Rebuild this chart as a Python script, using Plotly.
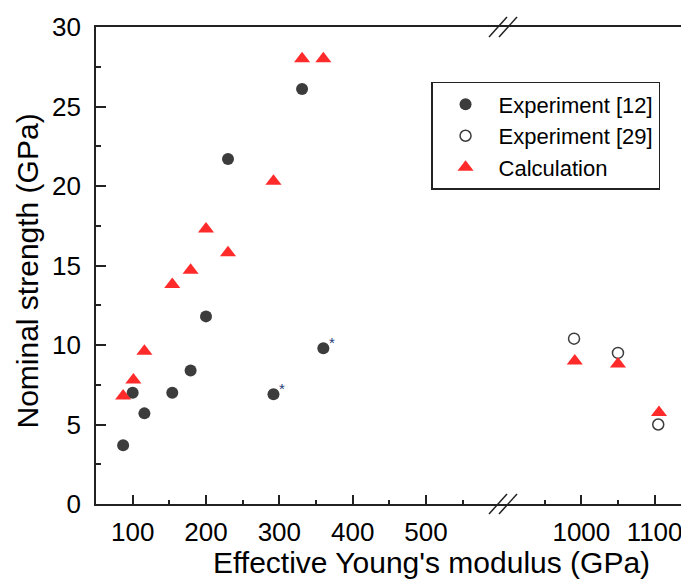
import plotly.graph_objects as go

# ---- data ----
exp12_x = [87, 100, 116, 154, 179, 200, 230, 292, 331, 360]
exp12_y = [3.7, 7.0, 5.7, 7.0, 8.4, 11.8, 21.7, 6.9, 26.1, 9.8]

exp29_x = [990, 1050, 1105]
exp29_y = [10.4, 9.5, 5.0]

calc_left_x = [87, 101, 116, 154, 179, 200, 230, 292, 331, 360]
calc_left_y = [6.8, 7.8, 9.6, 13.8, 14.7, 17.3, 15.8, 20.3, 28.0, 28.0]
calc_right_x = [991, 1050, 1106]
calc_right_y = [9.0, 8.8, 5.75]

star_x = [292, 360]
star_y = [6.9, 9.8]

x_left_ticks = [100, 200, 300, 400, 500]
x_left_minor = [150, 250, 350, 450, 550]
x_right_ticks = [1000, 1100]
x_right_minor = [950, 1050]
y_ticks = [0, 5, 10, 15, 20, 25, 30]

FONT = "Arial, Liberation Sans, sans-serif"
DARK = "#3c3c3c"
RED = "#ff2b2b"
SPLIT = 407 / 593

fig = go.Figure()
fig.add_trace(go.Scatter(x=exp12_x, y=exp12_y, mode="markers", name="Experiment [12]",
                         marker=dict(symbol="circle", size=12, color=DARK),
                         xaxis="x", yaxis="y"))
fig.add_trace(go.Scatter(x=exp29_x, y=exp29_y, mode="markers", name="Experiment [29]",
                         marker=dict(symbol="circle", size=11, color="white",
                                     line=dict(color=DARK, width=1.5)),
                         xaxis="x2", yaxis="y"))
fig.add_trace(go.Scatter(x=calc_left_x, y=calc_left_y, mode="markers", name="Calculation",
                         marker=dict(symbol="triangle-up", size=14, color=RED),
                         xaxis="x", yaxis="y", legendgroup="calc"))
fig.add_trace(go.Scatter(x=calc_right_x, y=calc_right_y, mode="markers", name="Calculation",
                         marker=dict(symbol="triangle-up", size=14, color=RED),
                         xaxis="x2", yaxis="y", legendgroup="calc", showlegend=False))

axis_common = dict(showline=True, linecolor="#222", linewidth=1.6, mirror=True,
                   ticks="inside", ticklen=9, tickwidth=1.5, tickcolor="#222",
                   showgrid=False, zeroline=False, ticklabelstandoff=4,
                   tickfont=dict(family=FONT, size=26, color="black"))

# page body has an 8px default margin, so the figure is sized to fit the window
fig.update_layout(
    width=681, height=571,
    margin=dict(l=88, r=0, t=19, b=75),
    plot_bgcolor="white", paper_bgcolor="white",
    xaxis=dict(domain=[0, SPLIT], range=[50, 605], tickmode="array", tickvals=x_left_ticks,
               minor=dict(tickmode="array", tickvals=x_left_minor, ticks="inside", ticklen=4,
                          tickwidth=1.5, tickcolor="#222"),
               anchor="y", **axis_common),
    xaxis2=dict(domain=[SPLIT, 1], range=[893, 1147], tickmode="array", tickvals=x_right_ticks,
                minor=dict(tickmode="array", tickvals=x_right_minor, ticks="inside", ticklen=4,
                           tickwidth=1.5, tickcolor="#222"),
                anchor="y", **axis_common),
    yaxis=dict(range=[0, 30], tickmode="array", tickvals=y_ticks,
               minor=dict(dtick=2.5, tick0=2.5, ticks="inside", ticklen=5,
                          tickwidth=1.5, tickcolor="#222"),
               showline=True, linecolor="#222", linewidth=1.6, mirror=False,
               ticks="inside", ticklen=10, tickwidth=1.5, tickcolor="#222",
               showgrid=False, zeroline=False, ticklabelstandoff=8,
               tickfont=dict(family=FONT, size=26, color="black")),
    legend=dict(x=0.565, y=0.885, xanchor="left", yanchor="top",
                bgcolor="white", bordercolor="#222", borderwidth=1.5,
                font=dict(family=FONT, size=22, color="black"),
                itemwidth=56, tracegroupgap=0),
    showlegend=True,
)

# axis titles
fig.add_annotation(text="Nominal strength (GPa)", xref="paper", yref="paper",
                   x=0, y=0.5, xanchor="center", yanchor="middle", xshift=-69, yshift=-6,
                   textangle=-90, showarrow=False,
                   font=dict(family=FONT, size=30, color="black"))
fig.add_annotation(text="Effective Young's modulus (GPa)", xref="paper", yref="paper",
                   x=(431 - 96) / 593, y=0, xanchor="center", yanchor="top", yshift=-40,
                   showarrow=False, font=dict(family=FONT, size=30, color="black"))

# asterisks
for sx, sy in zip(star_x, star_y):
    fig.add_annotation(text="*", x=sx, y=sy, xref="x", yref="y", showarrow=False,
                       xshift=9, yshift=6, font=dict(family=FONT, size=15, color="#1f3a78"))

# axis-break marks
for ya in (0, 1):
    for off in (-5, 5):
        fig.add_shape(type="line", xref="paper", yref="paper",
                      xsizemode="pixel", ysizemode="pixel", xanchor=SPLIT, yanchor=ya,
                      x0=off - 9, y0=-10, x1=off + 9, y1=10,
                      line=dict(color="#222", width=1.5), layer="above")

fig.write_html("out.html")
